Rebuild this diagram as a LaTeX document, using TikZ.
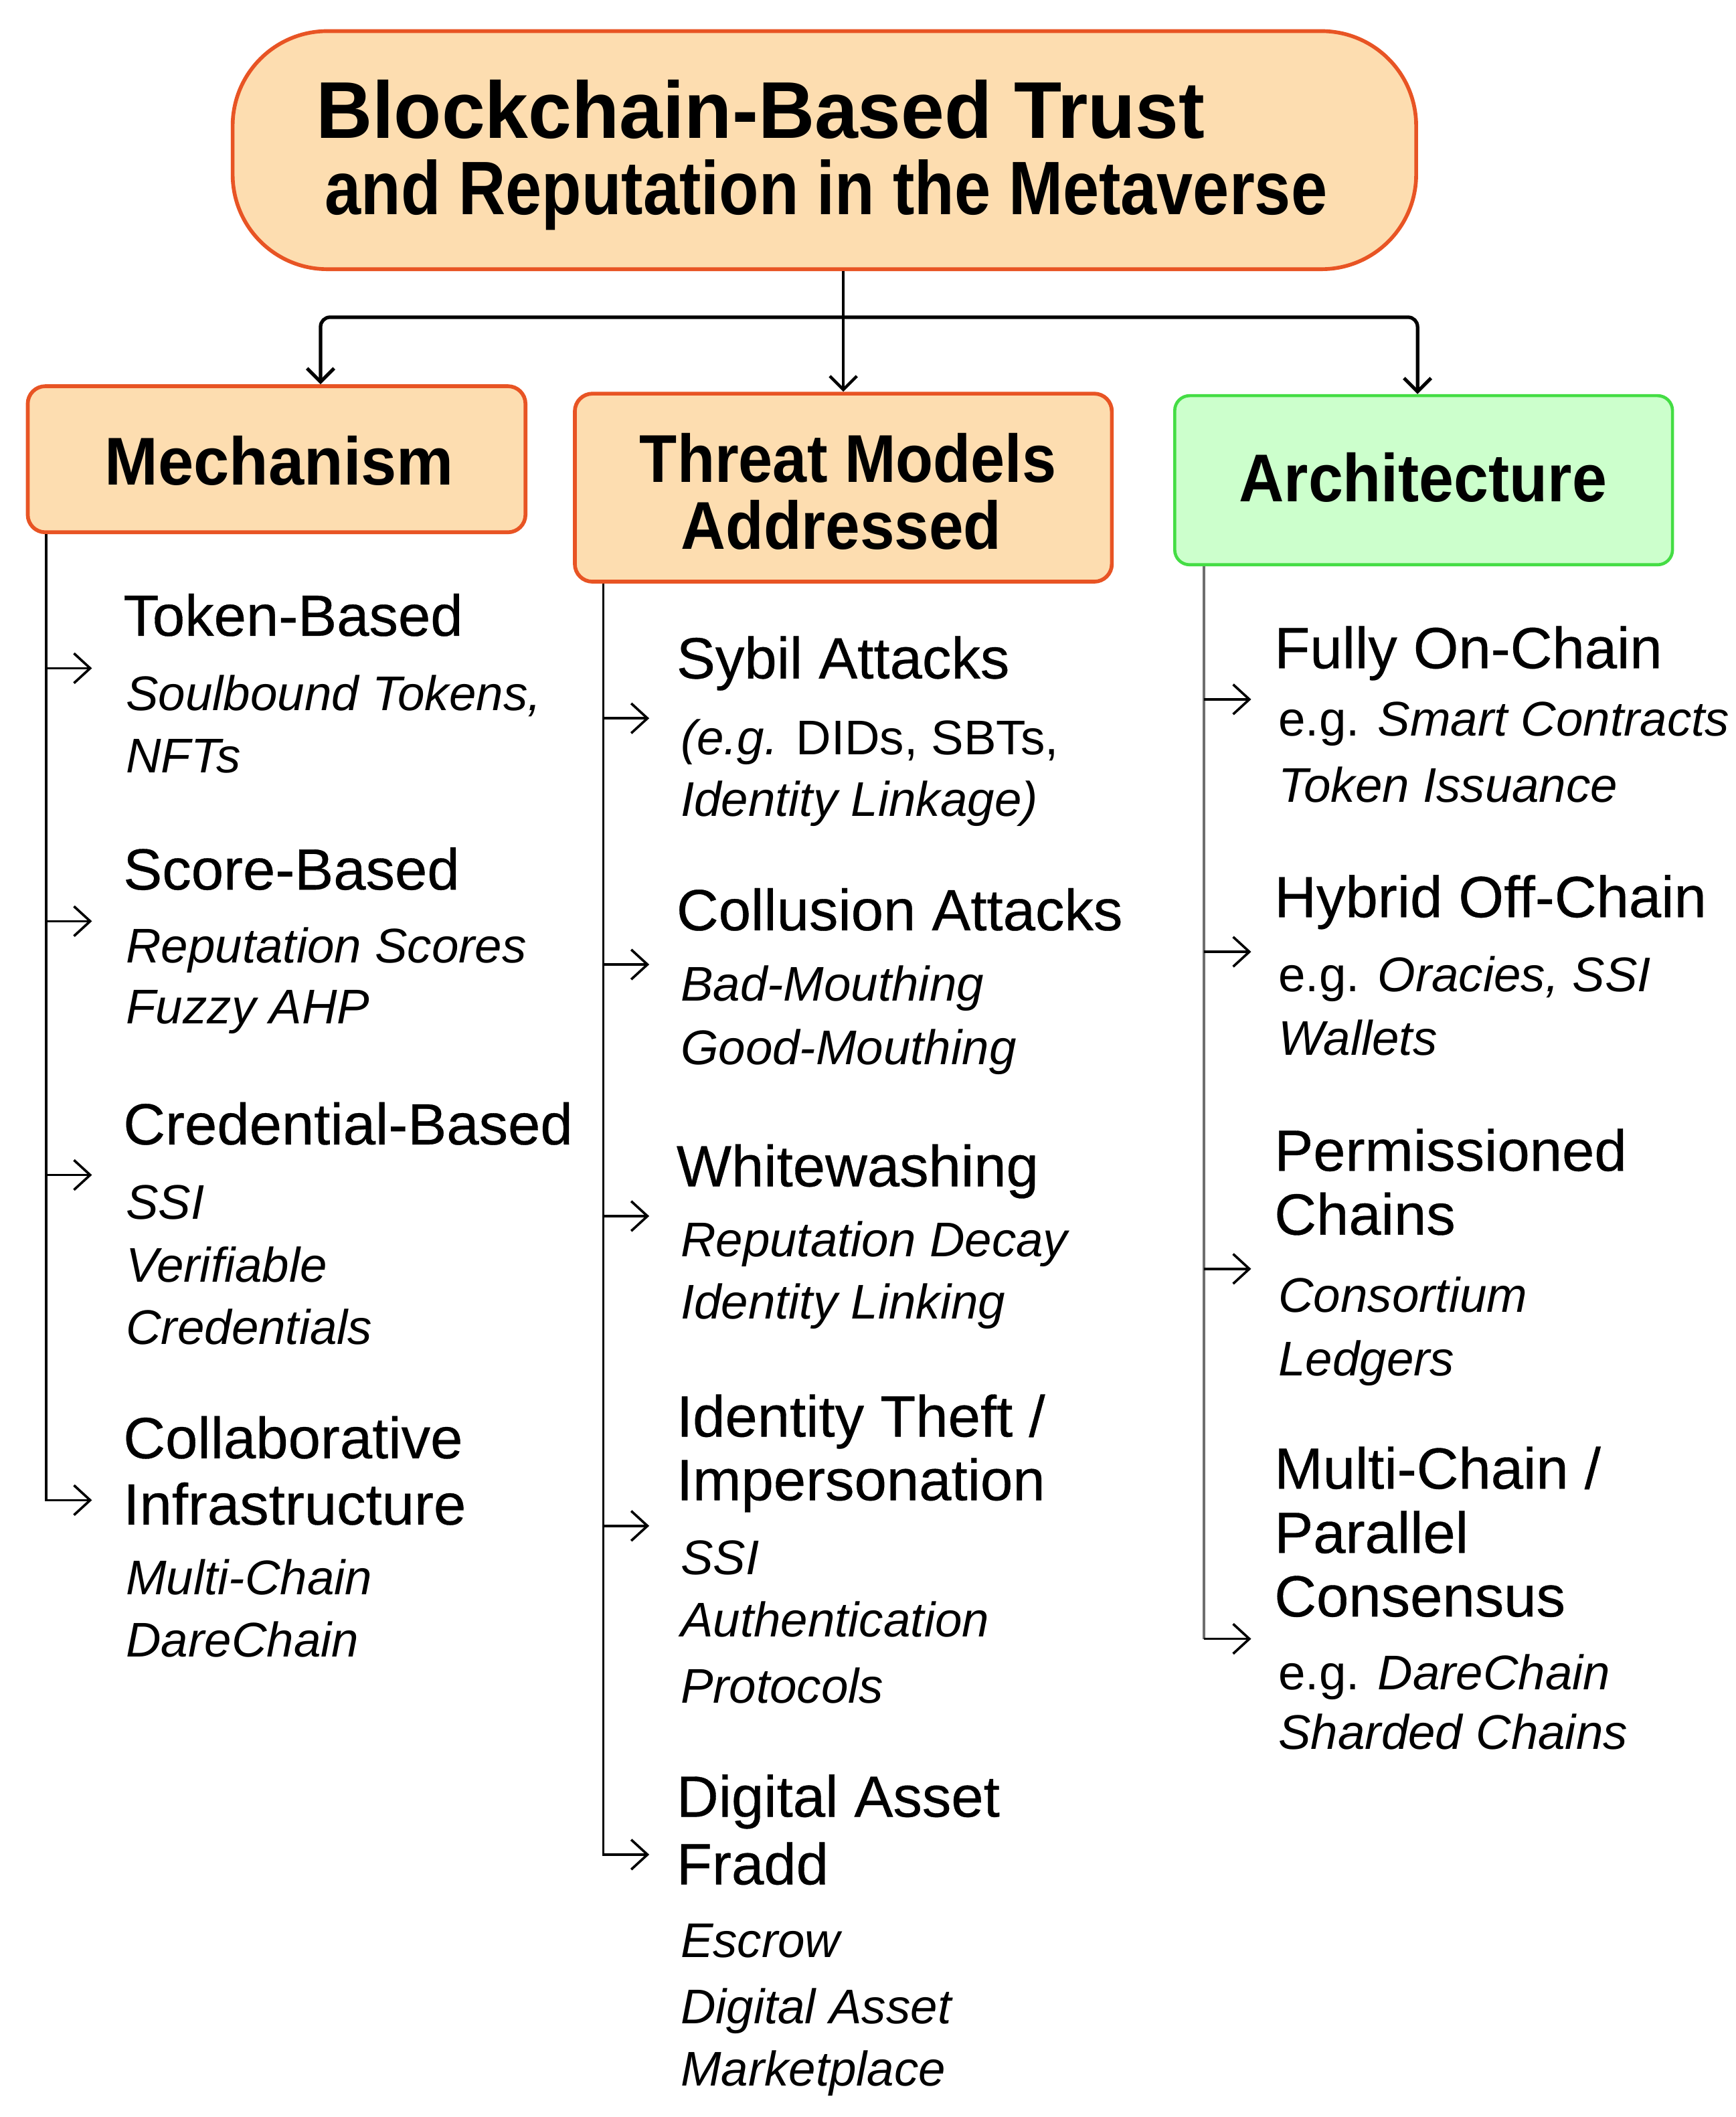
\documentclass[tikz,border=0pt]{standalone}
\usepackage{fontspec}
\usepackage{graphicx}
\setmainfont{Liberation Sans}
\newfontfamily\headfont[FakeBold=0.4]{Liberation Sans}
\usetikzlibrary{arrows.meta}
\definecolor{ofill}{RGB}{253,221,176}
\definecolor{oline}{RGB}{232,84,36}
\definecolor{gfill}{RGB}{204,255,204}
\definecolor{gline}{RGB}{68,221,68}
\definecolor{vgray}{RGB}{110,110,110}
\begin{document}
\begin{tikzpicture}[x=1pt,y=-1pt,
  obox/.style={draw=oline,fill=ofill,line width=2.8pt,rounded corners=13pt,inner sep=0pt},
  gbox/.style={draw=gline,fill=gfill,line width=2.3pt,rounded corners=11pt,inner sep=0pt},
  blab/.style={anchor=base,inner sep=0pt,font=\bfseries\fontsize{50}{50}\selectfont},
  ttl/.style={anchor=base west,inner sep=0pt,font=\bfseries\fontsize{59.5}{60}\selectfont},
  hd/.style={anchor=base west,inner sep=0pt,font=\headfont\fontsize{43}{43}\selectfont},
  it/.style={anchor=base west,inner sep=0pt,font=\itshape\fontsize{36}{36}\selectfont},
  arr/.style={-{Straight Barb[length=12pt,width=22pt]},line width=1.8pt},
  darr/.style={-{Straight Barb[length=10pt,width=20pt]},line width=2.2pt}]
\useasboundingbox[fill=white] (0,0) rectangle (1283,1565);

% ---------- boxes ----------
\node[obox,rounded corners=70pt,minimum width=875pt,minimum height=176pt] (title) at (609.5,111) {};
\node[ttl] (t1) at (233.5,102.3) {\resizebox{657pt}{\height}{Blockchain-Based Trust}};
\node[ttl,font=\bfseries\fontsize{56}{56}\selectfont] (t2) at (240,158.5) {\resizebox{741pt}{\height}{and Reputation in the Metaverse}};

\node[obox,minimum width=368pt,minimum height=108pt] (mech) at (204.5,339.5) {};
\node[blab] (mechl) at (206.5,358.5) {\resizebox{258pt}{\height}{Mechanism}};

\node[obox,minimum width=397pt,minimum height=139pt] (threat) at (623.5,360.5) {};
\node[blab] (threatl1) at (627,356.4) {\resizebox{308pt}{\height}{Threat Models}};
\node[blab] (threatl2) at (622,406) {\resizebox{237pt}{\height}{Addressed}};

\node[gbox,minimum width=368pt,minimum height=125pt] (arch) at (1052.5,355) {};
\node[blab] (archl) at (1052,370.8) {\resizebox{272pt}{\height}{Architecture}};

% ---------- top connectors ----------
\coordinate (jc) at (623.5,234.5);
\coordinate (jl) at (237,234.5);
\coordinate (jr) at (1048,234.5);
\draw[darr] (threat.north |- title.south) -- (threat.north);
\draw[darr,line width=2.6pt,rounded corners=7pt] (jc) -- (jl) -- (jl |- mech.north);
\draw[darr,line width=2.6pt,rounded corners=7pt] (jc) -- (jr) -- (jr |- arch.north);

% ---------- column 1: Mechanism ----------
\coordinate (c1) at (34,0);
\coordinate (m1) at (68,494);
\coordinate (m2) at (68,681);
\coordinate (m3) at (68,868.6);
\coordinate (m4) at (68,1109);
\draw[arr] (c1 |- mech.south) |- (m4);
\draw[arr] (c1 |- m1) -- (m1);
\draw[arr] (c1 |- m2) -- (m2);
\draw[arr] (c1 |- m3) -- (m3);

\node[hd] (tok) at (91,470) {Token-Based};
\node[it] (tok1) at (93,525) {Soulbound Tokens,};
\node[it] (tok2) at (93,571) {NFTs};
\node[hd] (sco) at (91,657.6) {Score-Based};
\node[it] (sco1) at (93,711.5) {Reputation Scores};
\node[it] (sco2) at (93,757) {Fuzzy AHP};
\node[hd] (cre) at (91,846) {Credential-Based};
\node[it] (cre1) at (93,901) {SSI};
\node[it] (cre2) at (93,947.5) {Verifiable};
\node[it] (cre3) at (93,993.6) {Credentials};
\node[hd] (col) at (91,1078) {Collaborative};
\node[hd] (col1) at (91,1127) {Infrastructure};
\node[it] (col2) at (93,1179) {Multi-Chain};
\node[it] (col3) at (93,1224.6) {DareChain};

% ---------- column 2: Threat Models ----------
\coordinate (c2) at (446,0);
\coordinate (th1) at (480,531);
\coordinate (th2) at (480,713);
\coordinate (th3) at (480,899);
\coordinate (th4) at (480,1128);
\coordinate (th5) at (480,1371);
\draw[arr] (c2 |- threat.south) |- (th5);
\draw[arr] (c2 |- th1) -- (th1);
\draw[arr] (c2 |- th2) -- (th2);
\draw[arr] (c2 |- th3) -- (th3);
\draw[arr] (c2 |- th4) -- (th4);

\node[hd] (syb) at (500,501.5) {Sybil Attacks};
\node[it] (syb1) at (503,558) {(e.g. \upshape DIDs, SBTs,};
\node[it] (syb2) at (503,603.5) {Identity Linkage)};
\node[hd] (clu) at (500,687.7) {Collusion Attacks};
\node[it] (clu1) at (503,740) {Bad-Mouthing};
\node[it] (clu2) at (503,787) {Good-Mouthing};
\node[hd] (whi) at (500,877) {Whitewashing};
\node[it] (whi1) at (503,929) {Reputation Decay};
\node[it] (whi2) at (503,975) {Identity Linking};
\node[hd] (ide) at (500,1062) {Identity Theft /};
\node[hd] (ide1) at (500,1109) {Impersonation};
\node[it] (ide2) at (503,1164) {SSI};
\node[it] (ide3) at (503,1210) {Authentication};
\node[it] (ide4) at (503,1259) {Protocols};
\node[hd] (dig) at (500,1343) {Digital Asset};
\node[hd] (dig1) at (500,1393) {Fradd};
\node[it] (dig2) at (503,1447) {Escrow};
\node[it] (dig3) at (503,1496) {Digital Asset};
\node[it] (dig4) at (503,1542) {Marketplace};

% ---------- column 3: Architecture ----------
\coordinate (c3) at (890,0);
\coordinate (ar1) at (925,517);
\coordinate (ar2) at (925,703.6);
\coordinate (ar3) at (925,938);
\coordinate (ar4) at (925,1211.5);
\draw[line width=1.8pt,vgray] (c3 |- arch.south) -- (c3 |- ar4);
\draw[arr] (c3 |- ar4) -- (ar4);
\draw[arr] (c3 |- ar1) -- (ar1);
\draw[arr] (c3 |- ar2) -- (ar2);
\draw[arr] (c3 |- ar3) -- (ar3);

\node[hd] (ful) at (942,494) {Fully On-Chain};
\node[it] (ful1) at (945,544) {\upshape e.g. \itshape Smart Contracts};
\node[it] (ful2) at (945,593) {Token Issuance};
\node[hd] (hyb) at (942,678) {Hybrid Off-Chain};
\node[it] (hyb1) at (945,733) {\upshape e.g. \itshape Oracies, SSI};
\node[it] (hyb2) at (945,780) {Wallets};
\node[hd] (per) at (942,865.5) {Permissioned};
\node[hd] (per1) at (942,912.7) {Chains};
\node[it] (per2) at (945,970) {Consortium};
\node[it] (per3) at (945,1017) {Ledgers};
\node[hd] (mul) at (942,1100.5) {Multi-Chain /};
\node[hd] (mul1) at (942,1148) {Parallel};
\node[hd] (mul2) at (942,1195) {Consensus};
\node[it] (mul3) at (945,1249) {\upshape e.g. \itshape DareChain};
\node[it] (mul4) at (945,1293) {Sharded Chains};
\end{tikzpicture}
\end{document}
